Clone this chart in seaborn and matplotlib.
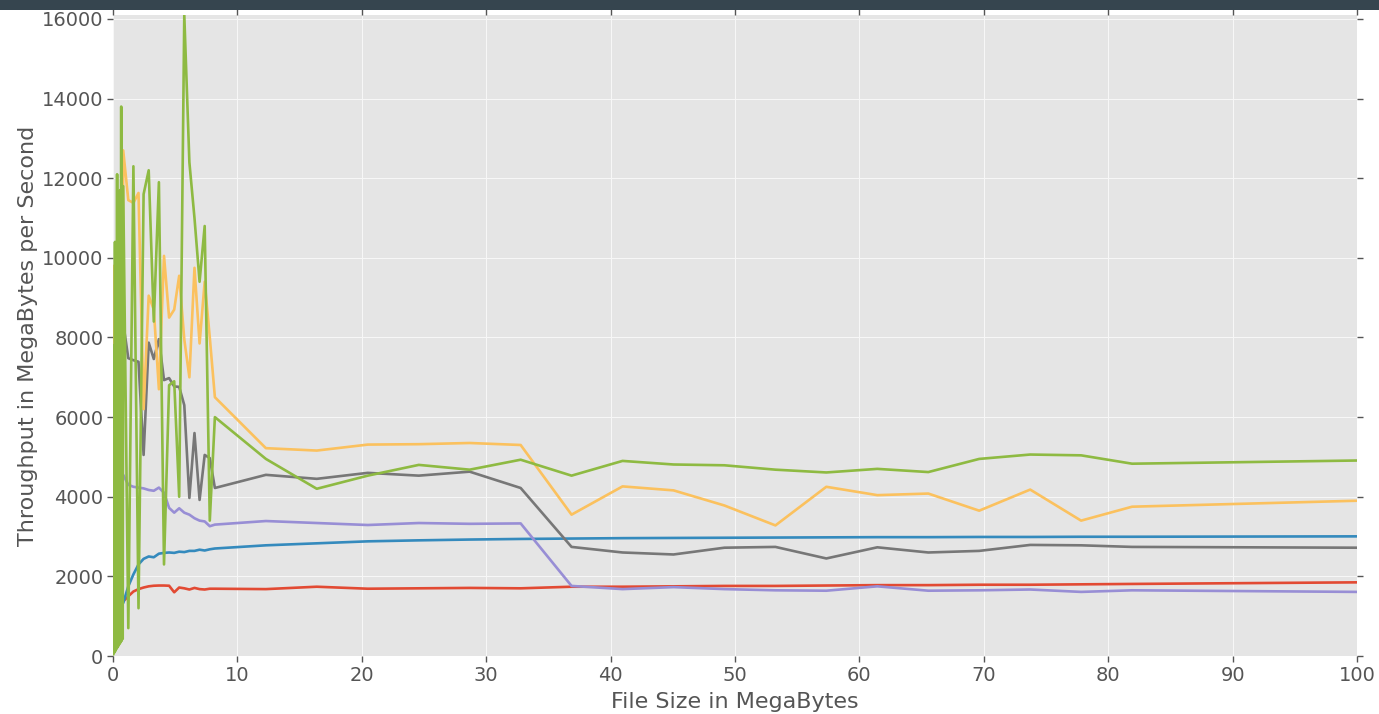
import matplotlib
matplotlib.use("Agg")
import matplotlib.pyplot as plt
from matplotlib.patches import Rectangle
import pandas as pd
import seaborn as sns

# File sizes (MB) at which throughput was measured
x_fine = [0.04, 0.08, 0.12, 0.16, 0.20, 0.25, 0.29, 0.33, 0.37, 0.41,
          0.45, 0.49, 0.53, 0.57, 0.61, 0.66, 0.70, 0.74, 0.78, 0.82]
x_mid = [1.23, 1.64, 2.05, 2.46, 2.87, 3.28, 3.69, 4.10, 4.51, 4.92,
         5.32, 5.73, 6.14, 6.55, 6.96, 7.37, 7.78, 8.19]
x_coarse = [12.29, 16.38, 20.48, 24.58, 28.67, 32.77, 36.86, 40.96, 45.06, 49.15,
            53.25, 57.34, 61.44, 65.54, 69.63, 73.73, 77.82, 81.92, 100.0]

# Throughput (MB/s) per method
red_y = ([1370] +
         [1500, 1620, 1680, 1720, 1750, 1765, 1770, 1770, 1765, 1600,
          1720, 1700, 1670, 1710, 1680, 1670, 1690, 1690] +
         [1680, 1740, 1690, 1700, 1710, 1700, 1740, 1740, 1750, 1760,
          1760, 1770, 1780, 1780, 1790, 1790, 1800, 1810, 1850])
blue_y = ([1330] +
          [1750, 2050, 2300, 2440, 2500, 2480, 2570, 2590, 2600, 2590,
           2620, 2610, 2640, 2640, 2670, 2650, 2680, 2700] +
          [2780, 2830, 2880, 2905, 2925, 2940, 2950, 2960, 2965, 2970,
           2975, 2980, 2985, 2985, 2990, 2990, 2995, 2995, 3005])
purple_y = ([4550] +
            [4300, 4250, 4230, 4210, 4170, 4150, 4230, 4100, 3720, 3600,
             3710, 3600, 3550, 3460, 3400, 3380, 3260, 3300] +
            [3390, 3340, 3290, 3340, 3320, 3330, 1760, 1680, 1730, 1680,
             1650, 1640, 1750, 1640, 1650, 1670, 1610, 1650, 1610])
gray_y = ([6600, 8360] +
          [7480, 7430, 7390, 5050, 7870, 7460, 7960, 6930, 6980, 6770,
           6760, 6300, 3970, 5600, 3920, 5050, 4970, 4220] +
          [4550, 4450, 4600, 4530, 4630, 4220, 2740, 2600, 2550, 2720,
           2740, 2450, 2730, 2600, 2640, 2790, 2780, 2740, 2720])
orange_y = ([5700, 9800, 7400, 8900, 8100, 9300, 8600, 9500, 8800, 9100,
             8400, 9700, 8900, 9200, 8700, 9600, 9000, 9300, 8800, 12700] +
            [11450, 11380, 11630, 6200, 9050, 8700, 6700, 10050, 8500, 8700,
             9550, 7950, 7000, 9750, 7850, 9400, 8000, 6500] +
            [5220, 5160, 5310, 5320, 5350, 5300, 3550, 4260, 4160, 3780,
             3280, 4250, 4040, 4080, 3650, 4180, 3400, 3750, 3900])
green_y = ([40, 7800, 90, 10400, 130, 9200, 180, 12100, 220, 11300,
            260, 10200, 300, 11700, 340, 13800, 380, 10900, 430, 11800] +
           [700, 12300, 1200, 11600, 12200, 8400, 11900, 2300, 6800, 6900,
            4000, 16100, 12400, 11000, 9400, 10800, 3400, 6000] +
           [4950, 4200, 4530, 4800, 4680, 4930, 4530, 4900, 4810, 4790,
            4680, 4610, 4700, 4620, 4950, 5060, 5040, 4830, 4910])

series = {
    "A": (x_fine[-1:] + x_mid + x_coarse, red_y),
    "B": (x_fine[-1:] + x_mid + x_coarse, blue_y),
    "C": (x_fine[-1:] + x_mid + x_coarse, purple_y),
    "D": (x_fine[-2:] + x_mid + x_coarse, gray_y),
    "E": (x_fine + x_mid + x_coarse, orange_y),
    "F": (x_fine + x_mid + x_coarse, green_y),
}
palette = {"A": "#E24A33", "B": "#348ABD", "C": "#988ED5",
           "D": "#777777", "E": "#FBC15E", "F": "#8EBA42"}

frames = []
for name, (xs, ys) in series.items():
    frames.append(pd.DataFrame({"size": xs, "throughput": ys, "method": name}))
df = pd.concat(frames, ignore_index=True)

sns.set_theme(style="darkgrid", rc={
    "axes.facecolor": "#E5E5E5",
    "grid.color": "#F7F7F7",
    "grid.linewidth": 0.8,
    "axes.edgecolor": "white",
    "xtick.color": "#555555",
    "ytick.color": "#555555",
    "axes.labelcolor": "#555555",
})
plt.rcParams["font.family"] = ["DejaVu Sans"]

fig = plt.figure(figsize=(13.79, 7.14), dpi=100)
fig.patch.set_facecolor("white")
ax = fig.add_axes([113 / 1379, 1 - 656 / 714, (1357 - 113) / 1379, (656 - 15) / 714])

sns.lineplot(data=df, x="size", y="throughput", hue="method",
             hue_order=list(series.keys()), palette=palette,
             estimator=None, sort=False, linewidth=1.9, legend=False, ax=ax)

ax.set_xlim(0, 100)
ax.set_ylim(0, 16100)
ax.set_xticks(range(0, 101, 10))
ax.set_yticks(range(0, 16001, 2000))
for s in ax.spines.values():
    s.set_visible(False)
ax.tick_params(axis="both", which="major", direction="out", length=4, width=1,
               color="#555555", labelsize=14, labelcolor="#555555",
               top=True, right=True, bottom=True, left=True, pad=3)
ax.set_xlabel("File Size in MegaBytes", fontsize=16, color="#555555", labelpad=5)
ax.set_ylabel("Throughput in MegaBytes per Second", fontsize=16, color="#555555", labelpad=3)

# dark header band across the top of the figure
fig.patches.append(Rectangle((0, 1 - 10 / 714), 1, 10 / 714, transform=fig.transFigure,
                             facecolor="#36454F", edgecolor="none", zorder=10))

fig.savefig("out.png", dpi=100)
